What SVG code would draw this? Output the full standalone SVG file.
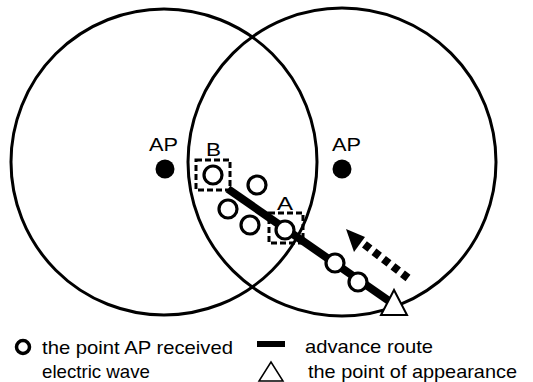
<svg xmlns="http://www.w3.org/2000/svg" width="533" height="382" viewBox="0 0 533 382">
<style>
.big{fill:none;stroke:#000;stroke-width:3}
.pt{fill:#fff;stroke:#000;stroke-width:3.2}
.box{fill:none;stroke:#000;stroke-width:3;stroke-dasharray:6 3}
.ap{fill:#000}
text{font-family:"Liberation Sans",Arial,sans-serif;fill:#000}
.lbl{font-size:19px}
.leg{font-size:19px}
</style>
<g id="circle-left"><circle class="big" cx="164" cy="162" r="153"/></g>
<g id="circle-right"><circle class="big" cx="342" cy="162" r="154"/></g>
<g id="ap-left"><circle class="ap" cx="165" cy="169" r="9.5"/><text class="lbl" x="149" y="151" textLength="29" lengthAdjust="spacingAndGlyphs">AP</text></g>
<g id="ap-right"><circle class="ap" cx="342" cy="169" r="9.5"/><text class="lbl" x="332" y="151" textLength="29" lengthAdjust="spacingAndGlyphs">AP</text></g>
<g id="connectors">
<line x1="228" y1="189" x2="392" y2="303" stroke="#000" stroke-width="8"/>
<line x1="408" y1="278" x2="360" y2="241" stroke="#000" stroke-width="8" stroke-dasharray="7 5"/>
<polygon points="346,229 365,237 354,252" fill="#000"/>
</g>
<g id="point-b"><circle class="pt" cx="213" cy="175" r="9"/><rect class="box" x="196" y="160" width="34" height="30"/><text class="lbl" x="206" y="156" textLength="15" lengthAdjust="spacingAndGlyphs">B</text></g>
<g id="point-1"><circle class="pt" cx="257" cy="185" r="9"/></g>
<g id="point-2"><circle class="pt" cx="228" cy="209" r="9"/></g>
<g id="point-3"><circle class="pt" cx="250" cy="225" r="9"/></g>
<g id="point-a"><circle class="pt" cx="285" cy="230" r="9"/><rect class="box" x="269" y="213" width="34" height="30"/><text class="lbl" x="277" y="210" textLength="16" lengthAdjust="spacingAndGlyphs">A</text></g>
<g id="point-4"><circle class="pt" cx="335" cy="263" r="9"/></g>
<g id="point-5"><circle class="pt" cx="358" cy="282" r="9"/></g>
<g id="appearance"><polygon points="394,290 381,315 407,315" fill="#fff" stroke="#000" stroke-width="2"/></g>
<g id="legend">
<circle cx="23" cy="347" r="6.5" fill="#fff" stroke="#000" stroke-width="3.5"/>
<text class="leg" x="42" y="354" textLength="191" lengthAdjust="spacingAndGlyphs">the point AP received</text>
<text class="leg" x="42" y="378" textLength="108" lengthAdjust="spacingAndGlyphs">electric wave</text>
<rect x="257" y="341" width="28" height="6" fill="#000"/>
<text class="leg" x="305" y="353" textLength="128" lengthAdjust="spacingAndGlyphs">advance route</text>
<polygon points="271,362 259,381 283,381" fill="#fff" stroke="#000" stroke-width="1.5"/>
<text class="leg" x="308" y="378" textLength="209" lengthAdjust="spacingAndGlyphs">the point of appearance</text>
</g>
</svg>
